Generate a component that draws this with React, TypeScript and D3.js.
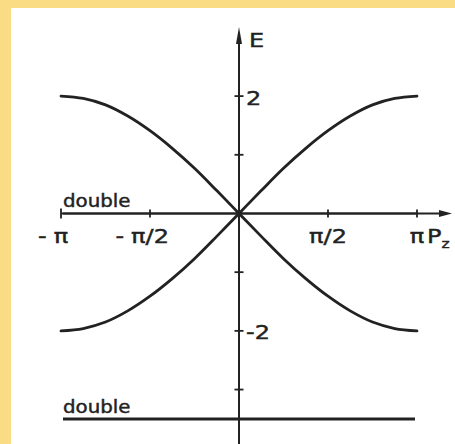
import React from "react";
import * as d3 from "d3";

const W = 455;
const H = 444;

// Momentum samples along P_z, in units of π
const momentumFrac = [-1, -0.875, -0.75, -0.625, -0.5, -0.375, -0.25, -0.125, 0, 0.125, 0.25, 0.375, 0.5, 0.625, 0.75, 0.875, 1];
// Energies of the two dispersive bands at those momenta
const risingBand = [-2.0, -1.96, -1.85, -1.66, -1.41, -1.11, -0.77, -0.39, 0, 0.39, 0.77, 1.11, 1.41, 1.66, 1.85, 1.96, 2.0];
const fallingBand = [2.0, 1.96, 1.85, 1.66, 1.41, 1.11, 0.77, 0.39, 0, -0.39, -0.77, -1.11, -1.41, -1.66, -1.85, -1.96, -2.0];
// Flat, doubly degenerate bands
const flatBandEnergies = [0, -3.5];
const flatBandLabels = ["double", "double"];

const xTickFrac = [-1, -0.5, 0.5, 1];
const xTickLabels = ["-π", "-π/2", "π/2", "π"];
const yTickValues = [2, 1, -1, -2, -3];
const yTickLabels = ["2", "", "", "-2", ""];

const INK = "#222";
const FONT = '"DejaVu Sans", sans-serif';
const LABEL_SIZE = 20;
const STRETCH = 1.2;
const TEXT_STROKE = 0.45;

let measureCtx: CanvasRenderingContext2D | null = null;
function textWidth(s: string, size: number) {
  if (!measureCtx) measureCtx = document.createElement("canvas").getContext("2d");
  if (!measureCtx) return s.length * size * 0.6;
  measureCtx.font = `${size}px ${FONT}`;
  return measureCtx.measureText(s).width;
}

export default function App() {
  const x = d3.scaleLinear().domain([-Math.PI, Math.PI]).range([61, 417]);
  const y = d3.scaleLinear().domain([-3.5, 2]).range([418.9, 96.1]);
  const x0 = x(0);
  const y0 = y(0);

  const line = d3
    .line<number>()
    .x((_, i) => x(momentumFrac[i] * Math.PI))
    .y((d) => y(d))
    .curve(d3.curveCatmullRom.alpha(0.5));

  const axisTop = 27;
  const axisRight = 452;

  return (
    <svg
      width={W}
      height={H}
      style={{ position: "absolute", left: 0, top: 0, display: "block" }}
      fontFamily={FONT}
    >
      <rect x={0} y={0} width={W} height={H} fill="#F9DC84" />
      <rect x={11} y={8} width={W - 11} height={H - 8} fill="#fff" />

      {/* axes */}
      <g stroke={INK} strokeWidth={2} fill="none">
        <line x1={x0} x2={x0} y1={axisTop + 10} y2={H} />
        <line x1={x(-Math.PI)} x2={axisRight - 8} y1={y0} y2={y0} />
      </g>
      <polygon
        points={`${x0},${axisTop} ${x0 - 3},${axisTop + 17} ${x0 + 3},${axisTop + 17}`}
        fill={INK}
      />
      <polygon
        points={`${axisRight},${y0} ${axisRight - 13},${y0 - 3.5} ${axisRight - 13},${y0 + 3.5}`}
        fill={INK}
      />

      {/* ticks */}
      <g stroke={INK} strokeWidth={1.8}>
        {xTickFrac.map((f, i) => (
          <line key={`xt${i}`} x1={x(f * Math.PI)} x2={x(f * Math.PI)} y1={y0 - (f === -1 ? 5 : 4)} y2={y0 + (f === -1 ? 5 : 4)} />
        ))}
        {yTickValues.map((v, i) => (
          <line key={`yt${i}`} x1={x0 - 4.5} x2={x0 + 4.5} y1={y(v)} y2={y(v)} />
        ))}
      </g>

      {/* x tick labels: the unsigned part is centred on the tick */}
      <g fill={INK} stroke={INK} strokeWidth={TEXT_STROKE} fontSize={LABEL_SIZE}>
        {xTickLabels.map((lab, i) => {
          const tx = x(xTickFrac[i] * Math.PI);
          const neg = lab.startsWith("-");
          const body = neg ? lab.slice(1) : lab;
          const half = (textWidth(body, LABEL_SIZE) * STRETCH) / 2;
          const by = y0 + 30;
          return (
            <g key={`xl${i}`}>
              <text transform={`translate(${tx},${by}) scale(${STRETCH},1)`} textAnchor="middle">
                {body}
              </text>
              {neg && (
                <text transform={`translate(${tx - half - 7},${by}) scale(${STRETCH},1)`} textAnchor="end">
                  -
                </text>
              )}
            </g>
          );
        })}
        {/* axis titles */}
        <text transform={`translate(${x(Math.PI) + 10},${y0 + 30}) scale(${STRETCH},1)`}>
          P
          <tspan fontSize={13} dy={5}>z</tspan>
        </text>
        <text transform={`translate(${x0 + 10},${axisTop + 20}) scale(${STRETCH},1)`}>E</text>

        {/* y tick labels */}
        {yTickValues.map((v, i) =>
          yTickLabels[i] ? (
            <text key={`yl${i}`} transform={`translate(${x0 + 7},${y(v) + 8.5}) scale(${STRETCH},1)`}>
              {yTickLabels[i]}
            </text>
          ) : null
        )}
      </g>

      {/* dispersive bands */}
      <g fill="none" stroke={INK} strokeWidth={2.8} strokeLinecap="round">
        <path d={line(risingBand) ?? ""} />
        <path d={line(fallingBand) ?? ""} />
      </g>

      {/* flat doubly degenerate bands */}
      {flatBandEnergies.map((e, i) => (
        <g key={`fb${i}`}>
          <line
            x1={x(-Math.PI) + 2}
            x2={x(Math.PI) - (e === 0 ? 0 : 2)}
            y1={y(e)}
            y2={y(e)}
            stroke={INK}
            strokeWidth={e === 0 ? 2 : 3}
          />
          <text
            transform={`translate(${x(-Math.PI) + 2},${y(e) - 6}) scale(1.1,1)`}
            fontSize={18}
            fill={INK}
            stroke={INK}
            strokeWidth={TEXT_STROKE}
          >
            {flatBandLabels[i]}
          </text>
        </g>
      ))}
    </svg>
  );
}
